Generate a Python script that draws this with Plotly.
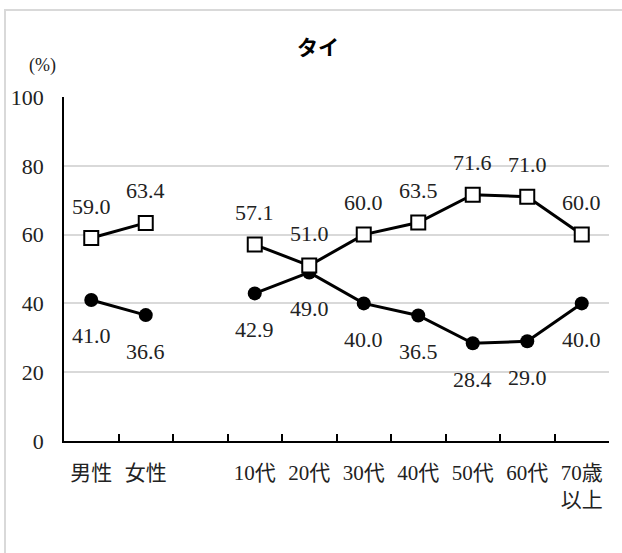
import plotly.graph_objects as go

# data
categories = ['男性', '女性', ' ', '10代', '20代', '30代', '40代', '50代', '60代', '70歳<br>以上']
male = [41.0, 36.6, None, 42.9, 49.0, 40.0, 36.5, 28.4, 29.0, 40.0]      # filled circles
female = [59.0, 63.4, None, 57.1, 51.0, 60.0, 63.5, 71.6, 71.0, 60.0]    # open squares
y_ticks = [0, 20, 40, 60, 80, 100]

serif = "'Liberation Serif', 'Noto Sans CJK JP', serif"

fig = go.Figure()

fig.add_trace(go.Scatter(
    x=categories, y=male, mode='lines+markers',
    line=dict(color='black', width=3),
    marker=dict(symbol='circle', size=14, color='black'),
    hoverinfo='skip'))

fig.add_trace(go.Scatter(
    x=categories, y=female, mode='lines+markers',
    line=dict(color='black', width=3),
    marker=dict(symbol='square', size=14, color='white',
                line=dict(color='black', width=2)),
    hoverinfo='skip'))

# value labels
for cat, v in zip(categories, male):
    if v is not None:
        fig.add_annotation(x=cat, y=v, text=f'{v:.1f}', showarrow=False,
                           yshift=-36, font=dict(family=serif, size=22, color='#222'))
for cat, v in zip(categories, female):
    if v is not None:
        fig.add_annotation(x=cat, y=v, text=f'{v:.1f}', showarrow=False,
                           yshift=32, font=dict(family=serif, size=22, color='#222'))

# (%) label
fig.add_annotation(xref='paper', yref='paper', x=(42 - 64) / 545, y=(441 - 65) / 344,
                   xanchor='center', yanchor='middle',
                   text='(%)', showarrow=False, font=dict(family=serif, size=18, color='#222'))

# outer frame
fig.add_shape(type='rect', xref='paper', yref='paper',
              x0=(5 - 64) / 545, x1=1.1, y0=-0.5, y1=(441 - 10) / 344,
              line=dict(color='#d9d9d9', width=2), fillcolor='rgba(0,0,0,0)')

fig.update_layout(
    width=622, height=553,
    margin=dict(l=64, r=13, t=97, b=112),
    paper_bgcolor='white', plot_bgcolor='white',
    showlegend=False,
    title=dict(text='<b>タイ</b>', xref='container', yref='container',
               x=318 / 622, y=1 - 48 / 553, xanchor='center', yanchor='middle',
               font=dict(family='Noto Sans CJK JP', size=21, color='black')),
    font=dict(family=serif, size=22, color='#222'))

fig.update_xaxes(
    type='category', categoryorder='array', categoryarray=categories,
    range=[-0.5, len(categories) - 0.5],
    showline=True, linecolor='black', linewidth=1.5,
    ticks='inside', tickson='boundaries', ticklen=7, tickcolor='black', tickwidth=1.5,
    showgrid=False, ticklabelstandoff=12,
    tickfont=dict(family=serif, size=21, color='#222'))

fig.update_yaxes(
    range=[0, 100], tickvals=y_ticks,
    showline=True, linecolor='black', linewidth=1.5,
    showgrid=True, gridcolor='#d9d9d9', gridwidth=2,
    ticks='', ticklabelstandoff=14, zeroline=False,
    tickfont=dict(family=serif, size=22, color='#222'))

# drop the default 8px page margin so the figure sits at the window origin
fig.write_html('out.html', config={'displayModeBar': False},
               post_script="document.body.style.margin='0';")
